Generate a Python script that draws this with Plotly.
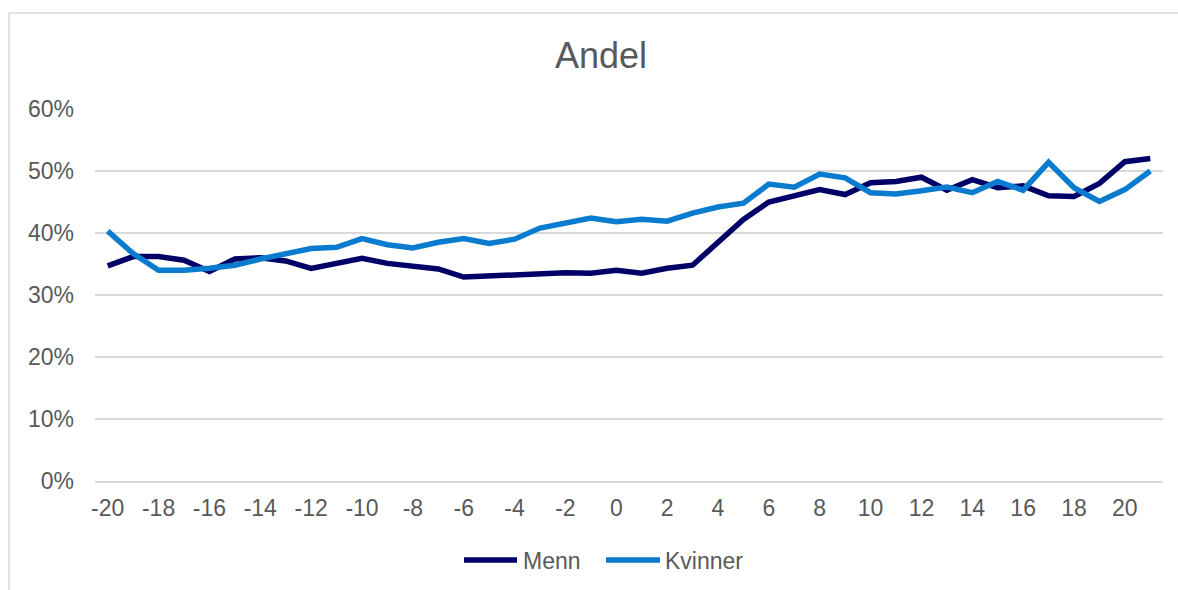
import plotly.graph_objects as go

years = list(range(-20, 22))
menn = [34.7, 36.2, 36.2, 35.6, 33.8, 35.8, 36.0, 35.5, 34.3, 35.2, 35.9, 35.1, 34.6, 34.2, 32.9,
        33.1, 33.2, 33.4, 33.6, 33.5, 34.0, 33.5, 34.3, 34.8, 38.6, 42.2, 45.0, 45.9, 47.0, 46.2,
        48.1, 48.3, 49.0, 46.9, 48.6, 47.3, 47.6, 46.0, 45.9, 48.0, 51.5, 52.0]
kvinner = [40.3, 36.7, 34.0, 34.0, 34.3, 34.8, 35.8, 36.7, 37.5, 37.7, 39.1, 38.1, 37.6, 38.5, 39.1,
           38.3, 39.0, 40.8, 41.6, 42.4, 41.8, 42.2, 41.9, 43.2, 44.2, 44.8, 47.9, 47.4, 49.5, 48.9,
           46.5, 46.3, 46.8, 47.4, 46.5, 48.3, 46.9, 51.4, 47.3, 45.1, 47.0, 50.0]
menn_frac = [v / 100 for v in menn]
kvinner_frac = [v / 100 for v in kvinner]

x_ticks = list(range(-20, 21, 2))
y_ticks = [0, 0.1, 0.2, 0.3, 0.4, 0.5, 0.6]

COL_MENN = "#000066"
COL_KVINNER = "#0A7CCF"
TXT = "#595959"
GRID = "#d9d9d9"
FONT = "Liberation Sans, Arial, sans-serif"

W, H = 1178, 590
L, R, T, B = 95, 15, 109, 109
pw, ph = W - L - R, H - T - B

def px(xp):
    return (xp - L) / pw

def py(yp):
    return (H - B - yp) / ph

fig = go.Figure()
fig.add_trace(go.Scatter(x=years, y=menn_frac, mode="lines", name="Menn",
                         line=dict(color=COL_MENN, width=5.5), showlegend=False))
fig.add_trace(go.Scatter(x=years, y=kvinner_frac, mode="lines", name="Kvinner",
                         line=dict(color=COL_KVINNER, width=5.5), showlegend=False))

shapes = [
    # chart border (left & top)
    dict(type="line", xref="paper", yref="paper", x0=px(9), x1=px(9), y0=py(13), y1=py(600),
         line=dict(color=GRID, width=1.5)),
    dict(type="line", xref="paper", yref="paper", x0=px(9), x1=px(1200), y0=py(13), y1=py(13),
         line=dict(color=GRID, width=1.5)),
    # legend swatches
    dict(type="line", xref="paper", yref="paper", x0=px(464), x1=px(517), y0=py(560), y1=py(560),
         line=dict(color=COL_MENN, width=5.5)),
    dict(type="line", xref="paper", yref="paper", x0=px(606), x1=px(660), y0=py(560), y1=py(560),
         line=dict(color=COL_KVINNER, width=5.5)),
]
annotations = [
    dict(text="Menn", xref="paper", yref="paper", x=px(521), y=py(561), xanchor="left",
         yanchor="middle", showarrow=False, font=dict(size=23, color=TXT, family=FONT)),
    dict(text="Kvinner", xref="paper", yref="paper", x=px(663), y=py(561), xanchor="left",
         yanchor="middle", showarrow=False, font=dict(size=23, color=TXT, family=FONT)),
]

fig.update_layout(
    width=W, height=H,
    margin=dict(l=L, r=R, t=T, b=B),
    paper_bgcolor="white", plot_bgcolor="white",
    font=dict(family=FONT, size=23, color=TXT),
    title=dict(text="Andel", x=601 / W, xref="container", xanchor="center",
               y=1 - 55 / H, yref="container", yanchor="middle",
               font=dict(size=36, color=TXT, family=FONT)),
    shapes=shapes,
    annotations=annotations,
    showlegend=False,
)
fig.update_xaxes(range=[-20.5, 21.5], tickvals=x_ticks, ticktext=[str(v) for v in x_ticks],
                 showgrid=False, zeroline=False, showline=True, linecolor=GRID, linewidth=1.5,
                 ticks="", ticklabelstandoff=6, tickfont=dict(size=23, color=TXT))
fig.update_yaxes(range=[0, 0.6], tickvals=y_ticks, tickformat=".0%", showgrid=True,
                 gridcolor=GRID, gridwidth=1.5, zeroline=False, showline=False,
                 ticks="", ticklabelstandoff=20, tickfont=dict(size=23, color=TXT))

fig.write_html("out.html", config={"displayModeBar": False},
               post_script="document.body.style.margin='0';document.body.style.overflow='hidden';")
